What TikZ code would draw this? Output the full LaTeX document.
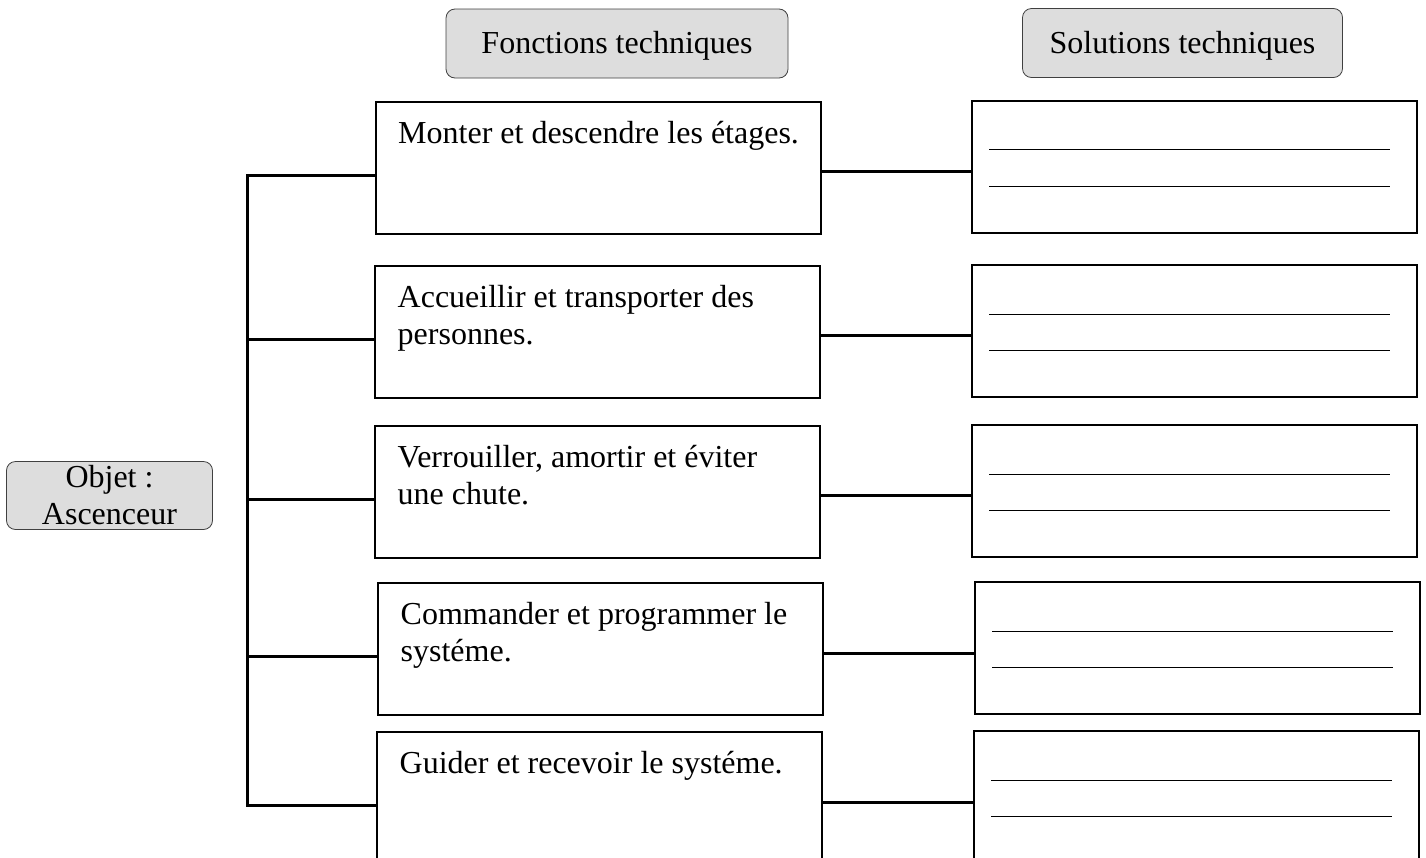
\documentclass[tikz,border=0pt]{standalone}
\usepackage{fontspec}
\setmainfont{Liberation Serif}
\usepackage{tikz}
\usetikzlibrary{positioning}
\definecolor{headergray}{RGB}{221, 221, 221}

\begin{document}
\begin{tikzpicture}[
    x=1pt, y=-1pt,
    header/.style={rectangle, draw=black!75, line width=0.8pt, rounded corners=9pt,
                fill=headergray, minimum width=342pt, minimum height=69pt,
                text height=26pt, text depth=6pt, inner sep=0pt,
                font=\fontsize{32}{37}\selectfont},
    objbox/.style={rectangle, draw=black!75, line width=0.8pt, rounded corners=9pt,
                fill=headergray, minimum width=206pt, minimum height=68pt,
                align=center, inner sep=0pt, font=\fontsize{32}{37}\selectfont},
    funcbox/.style={rectangle, draw, line width=2.2pt, anchor=north west,
                minimum width=445pt, minimum height=132pt, inner sep=0pt},
    functext/.style={anchor=north west, align=left, inner sep=0pt,
                font=\fontsize{32}{37}\selectfont},
    link/.style={line width=3.2pt, line join=miter},
    fillline/.style={line width=1pt}
]
    \useasboundingbox (0,0) rectangle (1426,857);
    \clip (0,0) rectangle (1426,857);

    % Headers
    \node[header] (fonctions) at (617,43.5) {Fonctions techniques};
    \node[header, minimum width=320pt] (solutions) at (1182.5,43) {Solutions techniques};

    % Object
    \node[objbox] (objet) at (109.5,495.5) {Objet :\\Ascenceur};

    % Technical functions
    \node[funcbox] (monter) at (374.5,100.5) {};
    \node[funcbox] (accueillir) at (374,264.5) {};
    \node[funcbox] (verrouiller) at (374,424.5) {};
    \node[funcbox] (commander) at (377,582) {};
    \node[funcbox] (guider) at (376,731) {};

    \node[functext, below right=10.5pt and 23.5pt of monter.north west] (monterlbl)
        {\rule{0pt}{32pt}Monter et descendre les étages.};
    \node[functext, below right=10.5pt and 23.5pt of accueillir.north west] (accueillirlbl)
        {\rule{0pt}{32pt}Accueillir et transporter des\\personnes.};
    \node[functext, below right=10.5pt and 23.5pt of verrouiller.north west] (verrouillerlbl)
        {\rule{0pt}{32pt}Verrouiller, amortir et éviter\\une chute.};
    \node[functext, below right=10.5pt and 23.5pt of commander.north west] (commanderlbl)
        {\rule{0pt}{32pt}Commander et programmer le\\systéme.};
    \node[functext, below right=10.5pt and 23.5pt of guider.north west] (guiderlbl)
        {\rule{0pt}{32pt}Guider et recevoir le systéme.};

    % Technical solutions
    \node[funcbox] (sol1) at (971,99.5) {};
    \node[funcbox] (sol2) at (971,264) {};
    \node[funcbox] (sol3) at (971,424) {};
    \node[funcbox] (sol4) at (974,581) {};
    \node[funcbox] (sol5) at (973,730) {};

    % Lines to fill in
    \foreach \s in {sol1, sol2, sol3, sol4, sol5} {
        \draw[fillline] ([shift={(18,50)}]\s.north west) -- ([shift={(-28,50)}]\s.north east);
        \draw[fillline] ([shift={(18,86.5)}]\s.north west) -- ([shift={(-28,86.5)}]\s.north east);
    }

    % Tree
    \coordinate (trunk) at (247.5,0);
    \draw[link] ([yshift=-7.5pt]monter.west) -- ([yshift=-7.5pt]monter.west -| trunk)
        -- ([yshift=-7.5pt]guider.west -| trunk) -- ([yshift=-7.5pt]guider.west);
    \draw[link] ([yshift=-7.5pt]accueillir.west -| trunk) -- ([yshift=-7.5pt]accueillir.west);
    \draw[link] ([yshift=-7.5pt]verrouiller.west -| trunk) -- ([yshift=-7.5pt]verrouiller.west);
    \draw[link] ([yshift=-7.5pt]commander.west -| trunk) -- ([yshift=-7.5pt]commander.west);

    % Connections
    \draw[link] ([yshift=-4pt]monter.east) -- ([yshift=-4pt]monter.east -| sol1.west);
    \draw[link] ([yshift=-4pt]accueillir.east) -- ([yshift=-4pt]accueillir.east -| sol2.west);
    \draw[link] ([yshift=-4pt]verrouiller.east) -- ([yshift=-4pt]verrouiller.east -| sol3.west);
    \draw[link] ([yshift=-4pt]commander.east) -- ([yshift=-4pt]commander.east -| sol4.west);
    \draw[link] ([yshift=-4pt]guider.east) -- ([yshift=-4pt]guider.east -| sol5.west);

\end{tikzpicture}
\end{document}
